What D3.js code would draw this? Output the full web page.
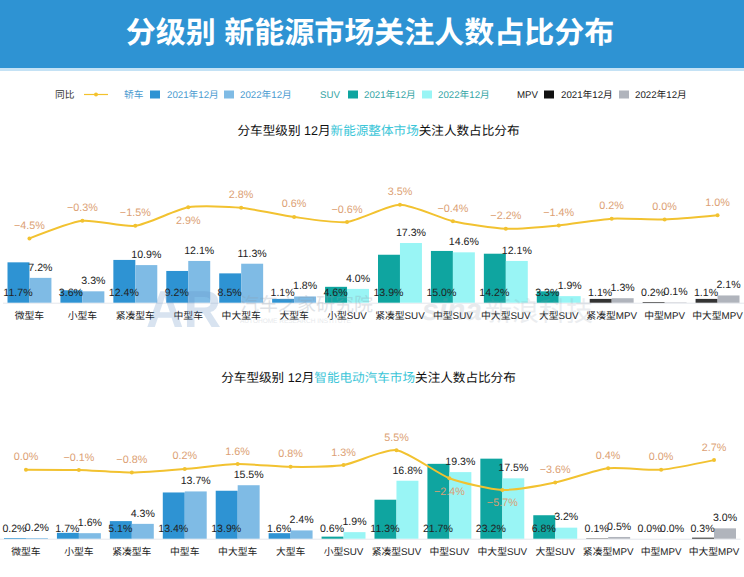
<!DOCTYPE html>
<html><head><meta charset="utf-8">
<script src="https://cdn.jsdelivr.net/npm/d3@7/dist/d3.min.js"></script>
<style>html,body{margin:0;padding:0;background:#fff}svg{display:block}text{font-family:"Liberation Sans","Noto Sans CJK SC",sans-serif;text-rendering:geometricPrecision}</style>
</head><body><div id="c"></div>
<script>
const categories=["微型车","小型车","紧凑型车","中型车","中大型车","大型车","小型SUV","紧凑型SUV","中型SUV","中大型SUV","大型SUV","紧凑型MPV","中型MPV","中大型MPV"];
const overall2021=[11.7,3.6,12.4,9.2,8.5,1.1,4.6,13.9,15.0,14.2,3.3,1.1,0.2,1.1];
const overall2022=[7.2,3.3,10.9,12.1,11.3,1.8,4.0,17.3,14.6,12.1,1.9,1.3,0.1,2.1];
const overallYoY=[-4.5,-0.3,-1.5,2.9,2.8,0.6,-0.6,3.5,-0.4,-2.2,-1.4,0.2,0.0,1.0];
const smart2021=[0.2,1.7,5.1,13.4,13.9,1.6,0.6,11.3,21.7,23.2,6.8,0.1,0.0,0.3];
const smart2022=[0.2,1.6,4.3,13.7,15.5,2.4,1.9,16.8,19.3,17.5,3.2,0.5,0.0,3.0];
const smartYoY=[0.0,-0.1,-0.8,0.2,1.6,0.8,1.3,5.5,-2.4,-5.7,-3.6,0.4,0.0,2.7];
const overallBelow=["中型车"];
const smartBelow=["中型SUV","中大型SUV"];
const colors2021=["#2e93d3","#0fa5a0","#333"];
const colors2022=["#7fbbe5","#99f5f5","#b0b4bc"];
const groupNames=["轿车","SUV","MPV"];
const groupText=["#4a9bd0","#35a5a5","#222"];
const W=744,H=577,fmt=v=>d3.format(".1f")(v).replace("-","−")+"%";
const svg=d3.select("#c").append("svg").attr("width",W).attr("height",H);
const groupOf=i=>i<6?0:i<11?1:2;

// header
svg.append("rect").attr("width",W).attr("height",68).attr("fill","#2e93d3");
svg.append("rect").attr("y",68).attr("width",W).attr("height",3).attr("fill","#c4e2f5");
svg.append("text").attr("x",370).attr("y",43).attr("text-anchor","middle").attr("fill","#fff")
  .attr("font-size",30).attr("font-weight",700).text("分级别 新能源市场关注人数占比分布");

// legend
const lg=svg.append("g").attr("font-size",9.7);
const lgY=98;
lg.append("text").attr("x",55).attr("y",lgY).attr("fill","#333").text("同比");
lg.append("line").attr("x1",84).attr("x2",108).attr("y1",lgY-3.5).attr("y2",lgY-3.5).attr("stroke","#f3c22c").attr("stroke-width",1.2);
lg.append("circle").attr("cx",96).attr("cy",lgY-3.5).attr("r",2).attr("fill","#f3c22c");
[[124,150,167,224,240],[320,348,364,422,438],[517,544,561,619,635]].forEach((p,g)=>{
  lg.append("text").attr("x",p[0]).attr("y",lgY).attr("fill",groupText[g]).text(groupNames[g]);
  lg.append("rect").attr("x",p[1]).attr("y",lgY-7.5).attr("width",10).attr("height",8).attr("fill",g==2?"#111":colors2021[g]);
  lg.append("text").attr("x",p[2]).attr("y",lgY).attr("fill",groupText[g]).text("2021年12月");
  lg.append("rect").attr("x",p[3]).attr("y",lgY-7.5).attr("width",10).attr("height",8).attr("fill",colors2022[g]);
  lg.append("text").attr("x",p[4]).attr("y",lgY).attr("fill",groupText[g]).text("2022年12月");
});

// subtitles
function subtitle(y,x,parts){
  const t=svg.append("text").attr("x",x).attr("y",y).attr("text-anchor","middle").attr("font-size",12.6).attr("fill","#111");
  parts.forEach((s,i)=>t.append("tspan").attr("fill",i==1?"#3cc6d8":"#111").text(s));
}
subtitle(134.5,378.5,["分车型级别 12月","新能源整体市场","关注人数占比分布"]);
subtitle(381.5,368.5,["分车型级别 12月","智能电动汽车市场","关注人数占比分布"]);

function chart(v21,v22,yoy,below,left,right,base,lineZero,lineK){
  const g=svg.append("g");
  const x=d3.scaleBand().domain(categories).range([left,right]).paddingInner(0.17).paddingOuter(0.085);
  const x1=d3.scaleBand().domain([0,1]).range([0,x.bandwidth()]);
  const y=d3.scaleLinear().domain([0,25]).range([base,base-25*3.45]);
  const yl=d3.scaleLinear().domain([0,1]).range([lineZero,lineZero-lineK]);

  g.append("line").attr("x1",left).attr("x2",right).attr("y1",base+.5).attr("y2",base+.5).attr("stroke","#e4e7ec");
  const ax=d3.axisBottom(x).tickSize(0).tickPadding(0);
  const axg=g.append("g").attr("transform",`translate(0,${base+16.5})`).call(ax);
  axg.select(".domain").remove();
  axg.selectAll("text").attr("font-size",9.8).attr("fill","#222").attr("font-family",'"Liberation Sans","Noto Sans CJK SC",sans-serif').attr("dy",0);

  [v21,v22].forEach((vals,s)=>{
    g.selectAll(null).data(vals).join("rect")
      .attr("x",(d,i)=>x(categories[i])+x1(s)).attr("width",x1.bandwidth())
      .attr("y",d=>y(d)).attr("height",d=>y(0)-y(d))
      .attr("fill",(d,i)=>(s?colors2022:colors2021)[groupOf(i)]);
  });

  const line=d3.line().x((d,i)=>x(categories[i])+x.bandwidth()/2).y(d=>yl(d)).curve(d3.curveCardinal.tension(0.35));
  g.append("path").datum(yoy).attr("d",line).attr("fill","none").attr("stroke","#f2c230").attr("stroke-width",2);
  g.selectAll(null).data(yoy).join("circle")
    .attr("cx",(d,i)=>x(categories[i])+x.bandwidth()/2).attr("cy",d=>yl(d)).attr("r",2).attr("fill","#f2c230");

  const lab=g.append("g").attr("text-anchor","middle");
  const T=lab.append("g").attr("fill","#222").attr("font-size",10.6);
  T.selectAll(null).data(v21).join("text")
    .attr("x",(d,i)=>x(categories[i])+x1(0)+x1.bandwidth()/2-0.5).attr("y",base-7.2).text(fmt);
  T.selectAll(null).data(v22).join("text")
    .attr("x",(d,i)=>x(categories[i])+x1(1)+x1.bandwidth()/2).attr("y",d=>y(d)-7.2).text(fmt);
  lab.append("g").attr("fill","#dc9f74").attr("font-size",10.8).selectAll(null).data(yoy).join("text")
    .attr("x",(d,i)=>x(categories[i])+x.bandwidth()/2)
    .attr("y",(d,i)=>yl(d)+(below.includes(categories[i])?16.5:-9.5)).text(fmt);
}
chart(overall2021,overall2022,overallYoY,overallBelow,3,744,302.7,219.5,4.2);
chart(smart2021,smart2022,smartYoY,smartBelow,-0.5,740.5,538.7,469.7,3.55);

// watermark, drawn over the charts
const wm=svg.append("g");
wm.append("text").attr("x",146).attr("y",327).attr("font-size",52).attr("font-weight",700).attr("fill","#5f8fc4").attr("opacity",.24).text("AR");
wm.append("text").attr("x",240).attr("y",311).attr("font-size",19).attr("fill","#8e9aa8").attr("opacity",.28).text("汽车之家研究院");
wm.append("text").attr("x",240).attr("y",323).attr("font-size",6.5).attr("fill","#8e9aa8").attr("opacity",.22).text("AUTOHOME RESEARCH INSTITUTE");
wm.append("text").attr("x",422).attr("y",320).attr("font-size",30).attr("font-style","italic").attr("font-weight",700).attr("fill","#8e9aa8").attr("opacity",.2).text("sina");
wm.append("text").attr("x",485).attr("y",321).attr("font-size",27).attr("fill","#8e9aa8").attr("opacity",.17).text("新浪科技");
</script></body></html>
